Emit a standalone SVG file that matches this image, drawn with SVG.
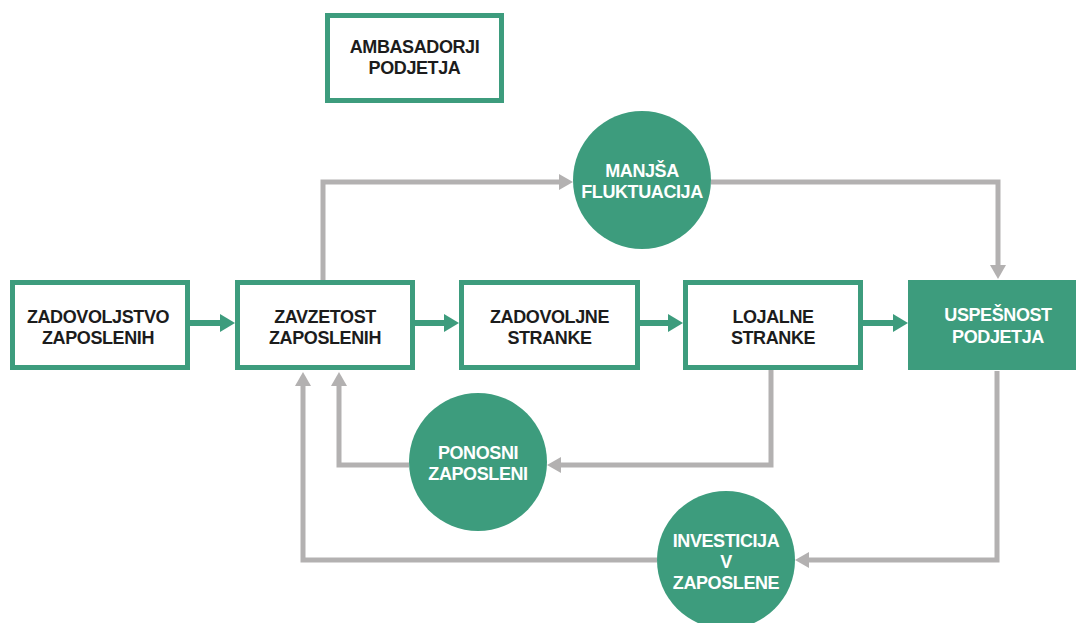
<svg xmlns="http://www.w3.org/2000/svg" width="1076" height="623" viewBox="0 0 1076 623">
<style>
.box{fill:#ffffff;stroke:#3d9c7d;stroke-width:5}
.fill{fill:#3d9c7d}
.t{font-family:"Liberation Sans",Arial,sans-serif;font-weight:bold;font-size:18px;letter-spacing:-0.4px;text-anchor:middle;fill:#1c1c1c}
.w{fill:#ffffff}
.g{fill:none;stroke:#3d9c7d;stroke-width:6}
.c{fill:none;stroke:#b3b1b1;stroke-width:5}
</style>
<defs>
<marker id="ag" markerUnits="userSpaceOnUse" viewBox="0 0 15 18" markerWidth="15" markerHeight="18" refX="0" refY="9" orient="auto"><path d="M0,0 L15,9 L0,18 z" fill="#3d9c7d"/></marker>
<marker id="ac" markerUnits="userSpaceOnUse" viewBox="0 0 14 16" markerWidth="14" markerHeight="16" refX="0" refY="8" orient="auto"><path d="M0,0 L14,8 L0,16 z" fill="#b3b1b1"/></marker>
</defs>
<rect width="1076" height="623" fill="#ffffff"/>
<g id="connectors">
<path class="g" d="M190,323 H220" marker-end="url(#ag)"/>
<path class="g" d="M415,323 H444" marker-end="url(#ag)"/>
<path class="g" d="M640,323 H668" marker-end="url(#ag)"/>
<path class="g" d="M863,323 H893" marker-end="url(#ag)"/>
<path class="c" d="M323,280 V182 H559" marker-end="url(#ac)"/>
<path class="c" d="M711,182 H998 V265" marker-end="url(#ac)"/>
<path class="c" d="M771,370 V465 H561" marker-end="url(#ac)"/>
<path class="c" d="M409,465 H339 V386" marker-end="url(#ac)"/>
<path class="c" d="M997,371 V560 H809" marker-end="url(#ac)"/>
<path class="c" d="M657,560 H303 V386" marker-end="url(#ac)"/>
</g>
<g id="ambasadorji">
<rect class="box" x="327.5" y="15.5" width="174" height="85"/>
<text class="t" x="414.5" y="53">AMBASADORJI</text>
<text class="t" x="414.5" y="74">PODJETJA</text>
</g>
<g id="zadovoljstvo">
<rect class="box" x="12.5" y="282.5" width="175" height="85"/>
<text class="t" x="98" y="323">ZADOVOLJSTVO</text>
<text class="t" x="98" y="344">ZAPOSLENIH</text>
</g>
<g id="zavzetost">
<rect class="box" x="237.5" y="282.5" width="175" height="85"/>
<text class="t" x="325" y="323">ZAVZETOST</text>
<text class="t" x="325" y="344">ZAPOSLENIH</text>
</g>
<g id="zadovoljne">
<rect class="box" x="461.5" y="282.5" width="176" height="85"/>
<text class="t" x="549.5" y="323">ZADOVOLJNE</text>
<text class="t" x="549.5" y="344">STRANKE</text>
</g>
<g id="lojalne">
<rect class="box" x="685.5" y="282.5" width="175" height="85"/>
<text class="t" x="773" y="323">LOJALNE</text>
<text class="t" x="773" y="344">STRANKE</text>
</g>
<g id="uspesnost">
<rect class="fill" x="908" y="280" width="180" height="90"/>
<text class="t w" x="998" y="321">USPEŠNOST</text>
<text class="t w" x="998" y="343">PODJETJA</text>
</g>
<g id="manjsa">
<circle class="fill" cx="642" cy="180" r="69"/>
<text class="t w" x="642" y="177">MANJŠA</text>
<text class="t w" x="642" y="198">FLUKTUACIJA</text>
</g>
<g id="ponosni">
<circle class="fill" cx="478" cy="462" r="69"/>
<text class="t w" x="478" y="459">PONOSNI</text>
<text class="t w" x="478" y="480">ZAPOSLENI</text>
</g>
<g id="investicija">
<circle class="fill" cx="726" cy="560" r="69"/>
<text class="t w" x="726" y="547">INVESTICIJA</text>
<text class="t w" x="726" y="568">V</text>
<text class="t w" x="726" y="589">ZAPOSLENE</text>
</g>
</svg>
